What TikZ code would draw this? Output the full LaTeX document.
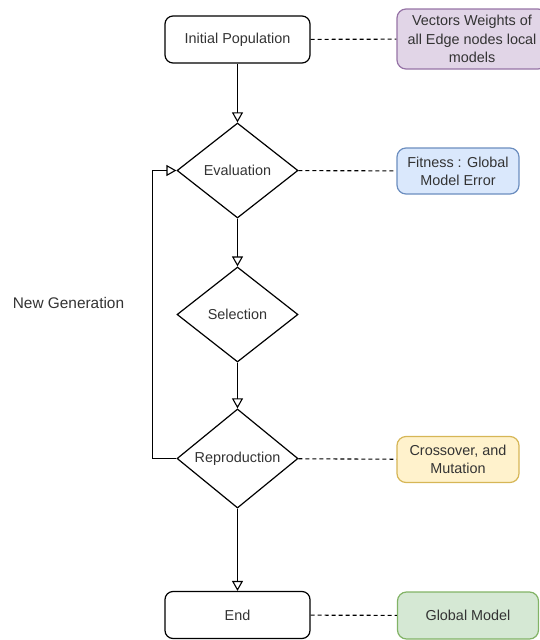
\documentclass[tikz,border=0pt]{standalone}
\usepackage{fontspec}
\setmainfont{Liberation Sans}
\usetikzlibrary{shapes.geometric,arrows.meta}
\definecolor{ink}{HTML}{333333}
\definecolor{purplefill}{HTML}{E1D5E7}\definecolor{purpleline}{HTML}{9673A6}
\definecolor{bluefill}{HTML}{DAE8FC}\definecolor{blueline}{HTML}{6C8EBF}
\definecolor{yellowfill}{HTML}{FFF2CC}\definecolor{yellowline}{HTML}{D6B656}
\definecolor{greenfill}{HTML}{D5E8D4}\definecolor{greenline}{HTML}{82B366}
\tikzset{
  every node/.style={font=\fontsize{14.4}{18}\selectfont, text=ink, align=center, inner sep=0pt},
  terminal/.style={draw=black, line width=1.2pt, rounded corners=8pt, minimum width=145pt, minimum height=47pt},
  decision/.style={draw=black, line width=1.2pt, diamond, minimum width=121pt, minimum height=95pt},
  note/.style={line width=1.2pt, rounded corners=9pt, minimum width=122pt, minimum height=46pt},
  flow/.style={draw=black, line width=1.1pt, -{Triangle[open, length=10pt, width=11pt, line width=1.1pt]}},
  link/.style={draw=black, line width=1.1pt, dash pattern=on 4pt off 3pt}
}
\begin{document}
\begin{tikzpicture}[x=1pt, y=-1pt]
  \useasboundingbox (0,0) rectangle (539,640);
  % main flow
  \node[terminal] (init) at (237.5,39.5) {Initial Population};
  \node[decision] (eval) at (237.5,170.5) {Evaluation};
  \node[decision] (sel) at (237.5,314.5) {Selection};
  \node[decision] (repro) at (237.5,458.5) {Reproduction};
  \node[terminal] (end) at (237.5,615) {End};
  % annotations
  \node[note, draw=purpleline, fill=purplefill, minimum width=150pt, minimum height=60pt, font=\fontsize{14.4}{18.5}\selectfont] (weights) at (472,39) {Vectors Weights of\\all Edge nodes local\\models};
  \node[note, draw=blueline, fill=bluefill] (fit) at (458,171) {Fitness : Global\\Model Error};
  \node[note, draw=yellowline, fill=yellowfill] (cross) at (458,459.5) {Crossover, and\\Mutation};
  \node[note, draw=greenline, fill=greenfill, minimum width=141pt, minimum height=47pt] (glob) at (468,615.5) {Global Model};
  \node[font=\fontsize{15.4}{18}\selectfont] (gen) at (68.5,303) {New Generation};
  % connectors
  \draw[flow] (init) -- (eval);
  \draw[flow] (eval) -- (sel);
  \draw[flow] (sel) -- (repro);
  \draw[flow] (repro) -- (end);
  \draw[flow] (repro.west) -- ++(-24,0) |- (eval.west);
  \draw[link] (init) -- (weights);
  \draw[link] (eval) -- (fit);
  \draw[link] (repro) -- (cross);
  \draw[link] (end) -- (glob);
\end{tikzpicture}
\end{document}
